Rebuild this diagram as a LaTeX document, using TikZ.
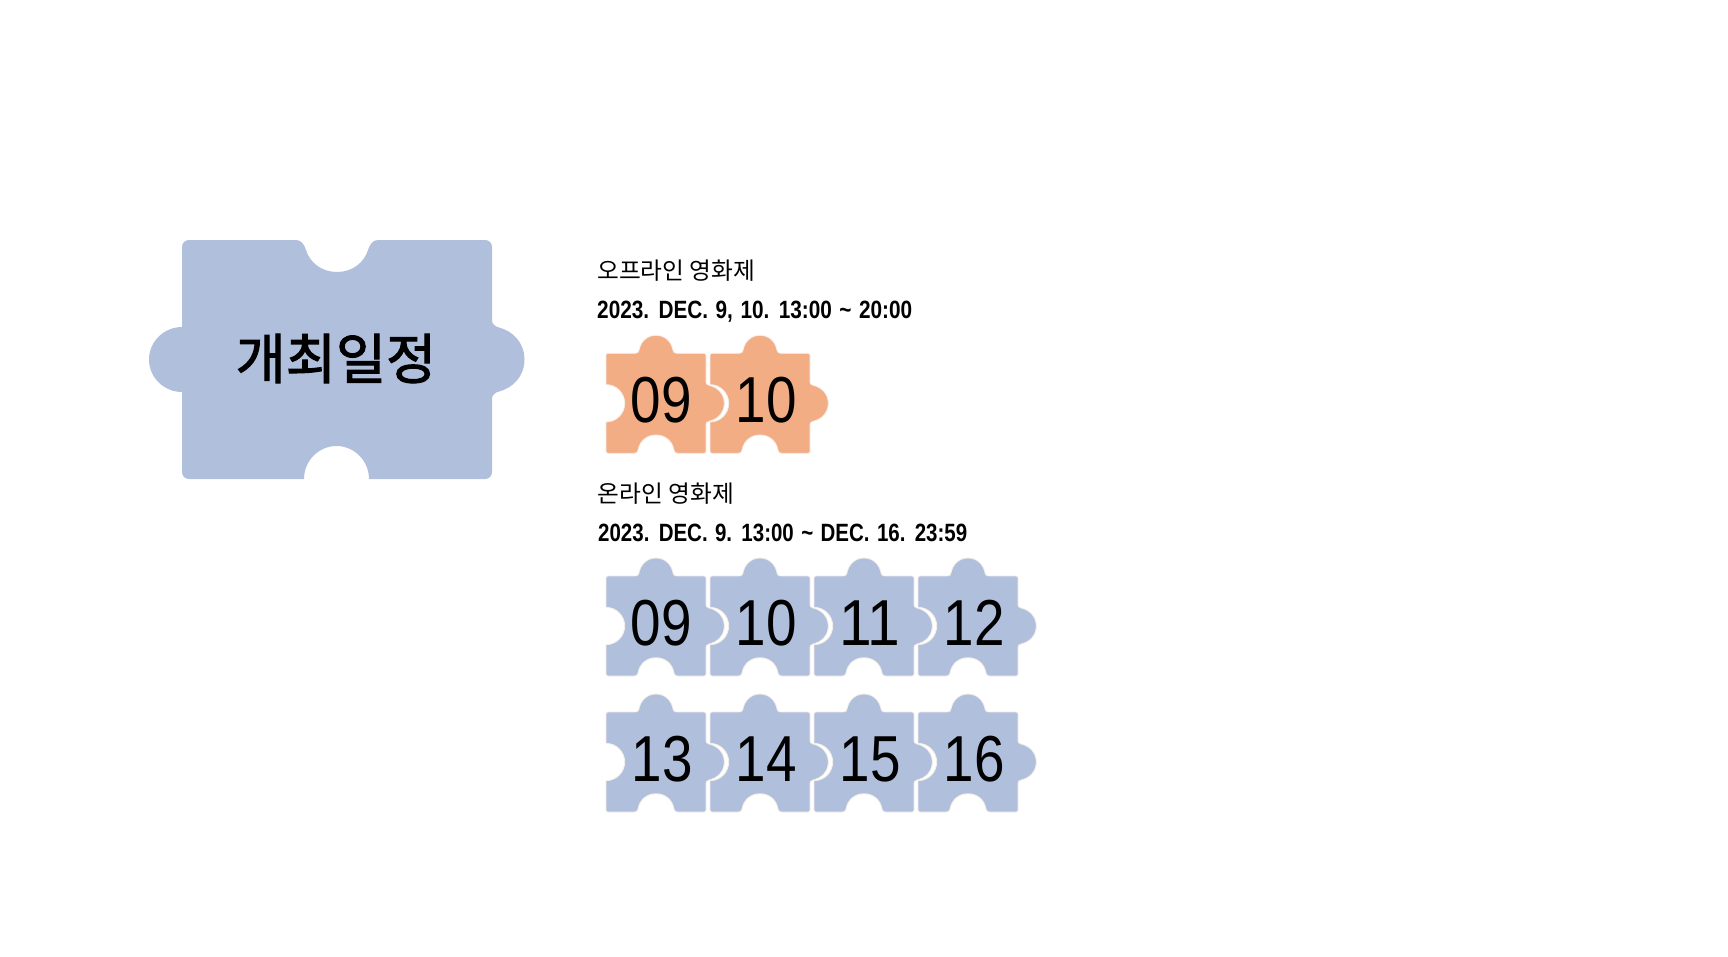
\documentclass[tikz,border=0pt]{standalone}
\usepackage{fontspec}
\usepackage{graphicx}
\newfontfamily\kofont{Noto Sans CJK KR}
\newfontfamily\kotitle[FakeBold=2]{Noto Sans CJK KR}
\newfontfamily\latfont[FakeStretch=0.8]{Liberation Sans}
\newfontfamily\datefont[FakeStretch=0.8,WordSpace=1.3]{Liberation Sans}
\definecolor{pieceblue}{HTML}{AFBFDC}
\definecolor{pieceorange}{HTML}{F3AD85}
\definecolor{pieceedge}{HTML}{F4EFE8}
\tikzset{
  x=1pt,y=-1pt,
  piece/.style={line width=0.8pt,draw=pieceedge,line join=round},
  daynum/.style={anchor=base,inner sep=0pt,font=\latfont\fontsize{65}{70}\selectfont},
  heading/.style={anchor=base west,inner sep=0pt,font=\kofont\fontsize{23.7}{28}\selectfont},
  datetext/.style={anchor=base west,inner sep=0pt,font=\datefont\bfseries\fontsize{25}{30}\selectfont},
  title/.style={anchor=center,inner sep=0pt,font=\kotitle\fontsize{54.5}{62}\selectfont}
}
% small puzzle piece: #1 name, #2 x, #3 y (top-left of body), #4 colour, #5 text, #6 text offset
\newcommand{\puzzlepiece}[6]{%
  \begin{scope}[shift={(#2,#3)}]
    \path[piece,fill=#4]
      (2,0) -- (29.5,0) .. controls (31.5,0) and (32.4,-1) .. (33,-3)
      .. controls (34.5,-11.5) and (41,-18) .. (50,-18)
      .. controls (59,-18) and (65.5,-11.5) .. (67,-3)
      .. controls (67.6,-1) and (68.5,0) .. (70.5,0)
      -- (98,0) .. controls (99.3,0) and (100,.7) .. (100,2)
      -- (100,29) .. controls (100,30.5) and (101,31.3) .. (103,32)
      .. controls (112,34) and (118.3,41) .. (118.3,50)
      .. controls (118.3,59) and (112,66) .. (103,68)
      .. controls (101,68.7) and (100,69.5) .. (100,71)
      -- (100,98) .. controls (100,99.3) and (99.3,100) .. (98,100)
      -- (71.5,100) .. controls (69.5,100) and (68.6,99) .. (68,97)
      .. controls (66.5,88) and (59.5,81.7) .. (50,81.7)
      .. controls (40.5,81.7) and (33.5,88) .. (32,97)
      .. controls (31.4,99) and (30.5,100) .. (28.5,100)
      -- (2,100) .. controls (.7,100) and (0,99.3) .. (0,98)
      -- (0,68.7) .. controls (10.3,68.7) and (18.7,60.3) .. (18.7,50)
      .. controls (18.7,39.7) and (10.3,31.3) .. (0,31.3)
      -- (0,2) .. controls (0,.7) and (.7,0) .. (2,0) -- cycle;
    \node[daynum] (#1) at (#6,69) {\resizebox{61pt}{\height}{#5}};
  \end{scope}}
\begin{document}
\begin{tikzpicture}
\useasboundingbox (0,0) rectangle (1728,956);
% large piece
\path[fill=pieceblue]
  (189,240) -- (296,240) .. controls (301,240) and (304,244) .. (306,250)
  .. controls (310,263) and (322,272) .. (337,272)
  .. controls (352,272) and (364,263) .. (368,250)
  .. controls (370,244) and (373,240) .. (378,240)
  -- (485,240) .. controls (489,240) and (492,243) .. (492,247)
  -- (492,320) .. controls (492,324) and (495,326.5) .. (499,327.5)
  .. controls (513,331) and (524.5,343) .. (524.5,359.5)
  .. controls (524.5,376) and (513,388) .. (499,391.5)
  .. controls (495,392.5) and (492,395) .. (492,399)
  -- (492,472) .. controls (492,476) and (489,479) .. (485,479)
  -- (369,479) .. controls (369,461) and (354.5,446) .. (336.5,446)
  .. controls (318.5,446) and (304,461) .. (304,479)
  -- (189,479) .. controls (185,479) and (182,476) .. (182,472)
  -- (182,392) .. controls (164,392) and (149,377.5) .. (149,359.5)
  .. controls (149,341.5) and (164,327) .. (182,327)
  -- (182,247) .. controls (182,243) and (185,240) .. (189,240) -- cycle;
\node[title] (maintitle) at (336,358.5) {개최일정};
% offline
\node[heading] (offhead) at (597,279) {오프라인 영화제};
\node[datetext] (offdate) at (597,318) {\resizebox{315pt}{\height}{2023. DEC. 9, 10. 13:00 \textasciitilde{} 20:00}};
\puzzlepiece{offa}{606}{353.3}{pieceorange}{09}{55}
\puzzlepiece{offb}{710}{353.3}{pieceorange}{10}{56}
% online
\node[heading] (onhead) at (597.5,502) {온라인 영화제};
\node[datetext] (ondate) at (598,541.5) {\resizebox{369pt}{\height}{2023. DEC. 9. 13:00 \textasciitilde{} DEC. 16. 23:59}};
\puzzlepiece{ona}{606}{576}{pieceblue}{09}{55}
\puzzlepiece{onb}{710}{576}{pieceblue}{10}{56}
\puzzlepiece{onc}{814}{576}{pieceblue}{11}{56}
\puzzlepiece{ond}{918}{576}{pieceblue}{12}{56}
\puzzlepiece{one}{606}{712}{pieceblue}{13}{56}
\puzzlepiece{onf}{710}{712}{pieceblue}{14}{56}
\puzzlepiece{ong}{814}{712}{pieceblue}{15}{56}
\puzzlepiece{onh}{918}{712}{pieceblue}{16}{56}
\end{tikzpicture}
\end{document}
